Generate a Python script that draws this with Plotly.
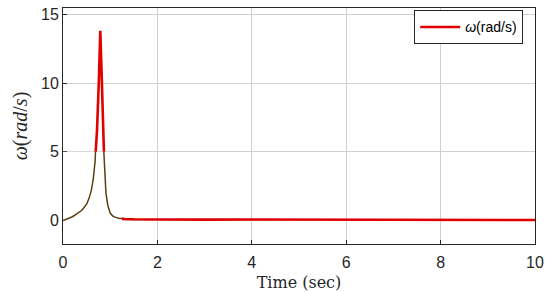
import plotly.graph_objects as go

# Data
time_s = [0, 0.1, 0.2, 0.3, 0.4, 0.5, 0.55, 0.6, 0.64, 0.68, 0.72, 0.76, 0.79,
          0.82, 0.85, 0.88, 0.91, 0.95, 1.0, 1.05, 1.1, 1.2, 1.3, 1.5,
          2, 3, 4, 5, 6, 7, 8, 9, 10]
omega = [0, 0.12, 0.28, 0.5, 0.75, 1.2, 1.6, 2.2, 3.0, 4.3, 6.5, 10.2, 13.8,
         10.5, 6.0, 3.5, 2.0, 1.1, 0.55, 0.35, 0.25, 0.16, 0.12, 0.1,
         0.08, 0.07, 0.08, 0.08, 0.07, 0.07, 0.06, 0.05, 0.04]

x_ticks = [0, 2, 4, 6, 8, 10]
y_ticks = [0, 5, 10, 15]
x_min, x_max = 0, 10
y_min, y_max = -1.7, 15.45
dark_top = 5
dark_right = 1.25

yfrac = (dark_top - y_min) / (y_max - y_min)
xfrac = (dark_right - x_min) / (x_max - x_min)

fig = go.Figure()
fig.add_trace(go.Scatter(x=time_s, y=omega, mode="lines",
                         line=dict(color="#e00000", width=2.6),
                         name="<i>ω</i>(rad/s)"))
fig.add_trace(go.Scatter(x=time_s, y=omega, mode="lines", xaxis="x2", yaxis="y2",
                         line=dict(color="#5a3f12", width=1.5),
                         showlegend=False, hoverinfo="skip"))

axis_common = dict(showline=True, linecolor="#262626", linewidth=1, mirror=True,
                   showgrid=True, gridcolor="#d0d0d0", gridwidth=1, automargin=False,
                   ticks="inside", ticklen=4, tickcolor="#262626", zeroline=False,
                   tickfont=dict(family="Liberation Sans, Arial", size=16, color="#262626"))

fig.update_layout(
    width=550, height=292,
    margin=dict(l=63, r=15, t=8, b=48),
    paper_bgcolor="white", plot_bgcolor="white",
    xaxis=dict(range=[x_min, x_max], tickvals=x_ticks, ticklabelstandoff=4, **axis_common,
               title=dict(text="Time (sec)", standoff=7,
                          font=dict(family="DejaVu Serif, Liberation Serif", size=16, color="#262626"))),
    yaxis=dict(range=[y_min, y_max], tickvals=y_ticks, **axis_common,
               title=dict(text="<i>ω</i>(<i>rad</i>/<i>s</i>)", standoff=8,
                          font=dict(family="Liberation Serif, DejaVu Serif", size=20, color="#262626"))),
    xaxis2=dict(domain=[0, xfrac], range=[x_min, dark_right], anchor="y2",
                visible=False, showgrid=False),
    yaxis2=dict(domain=[0, yfrac], range=[y_min, dark_top], anchor="x2",
                visible=False, showgrid=False),
    legend=dict(x=0.975, y=0.99, xanchor="right", yanchor="top",
                bgcolor="white", bordercolor="#262626", borderwidth=1,
                font=dict(family="Liberation Sans, Arial", size=14, color="#000000"),
                itemwidth=40, tracegroupgap=0),
    showlegend=True,
)

fig.write_html("out.html", config={"displayModeBar": False},
               post_script="document.body.style.margin='0';")
